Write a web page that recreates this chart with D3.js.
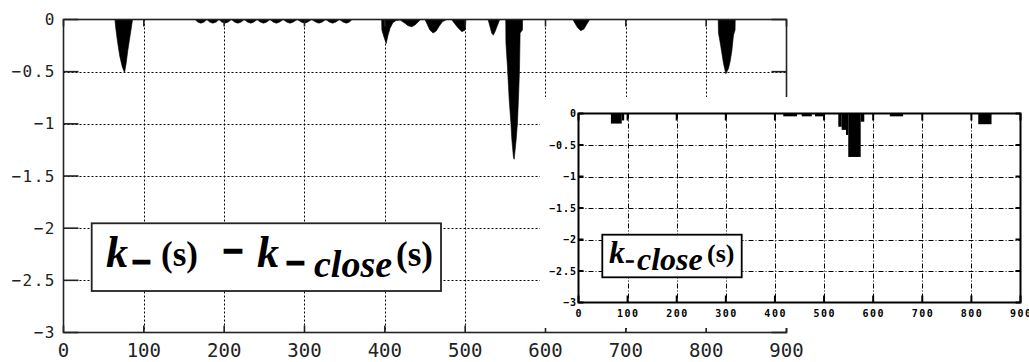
<!DOCTYPE html>
<html><head><meta charset="utf-8">
<script src="https://cdn.jsdelivr.net/npm/d3@7"></script>
<style>body{margin:0;background:#fff;} svg{display:block}</style>
</head><body><svg id="c" width="1029" height="362"></svg>
<script>
// ---------- data (main panel: k_(s) - k_close(s)) ----------
const mainX = [0,63,64,65,67,70,73,76,78,80,83,86,
  164,167,171,175,178.5,182,186,190,193.5,197,201,205,209,213,217,221,225,229,233,237,241,
  245,249,253,257,261,265,269,273.5,278,282,286,291,296,300,304,309,314,318,322,326.5,
  331,335,339,343.5,348,352,356,359,
  396,396.3,399,401.7,404,406.5,410,414,419,424,429,433.6,438,442,444.5,
  450,453,456,460,464,468,472,477,483,487,491,496,500,501,
  528.5,531,533,535,537,540,543,
  550.5,550.7,552.6,554.8,556.9,558.1,560.1,561,563.5,565.1,566.3,567.6,568.4,571.3,571.5,
  634,637,640,644,648,651,655,
  815,815.3,817.4,819.5,821.5,824.5,827.8,829.9,832,834,836,836.2,900];
const mainV = [0,0,0,-0.08,-0.2,-0.35,-0.45,-0.51,-0.42,-0.3,-0.15,0,
  0,-0.025,-0.035,-0.025,0,-0.025,-0.035,-0.025,0,-0.025,-0.035,-0.025,0,-0.025,-0.035,-0.025,0,-0.025,-0.035,-0.025,0,
  -0.025,-0.035,-0.025,0,-0.025,-0.035,-0.025,0,-0.025,-0.035,-0.025,0,-0.025,-0.035,-0.025,0,-0.025,-0.035,-0.025,0,
  -0.025,-0.035,-0.025,0,-0.025,-0.035,-0.025,0,
  0,-0.1,-0.17,-0.23,-0.15,-0.085,-0.03,-0.01,-0.005,-0.03,-0.06,-0.07,-0.05,-0.02,0,
  0,-0.05,-0.1,-0.13,-0.11,-0.06,-0.02,0,0,-0.04,-0.08,-0.117,-0.1,0,
  0,-0.07,-0.13,-0.15,-0.12,-0.06,0,
  0,-0.22,-0.45,-0.77,-0.99,-1.15,-1.32,-1.34,-1.15,-0.99,-0.77,-0.49,-0.13,-0.1,0,
  0,-0.04,-0.08,-0.107,-0.09,-0.05,0,
  0,-0.13,-0.22,-0.32,-0.42,-0.52,-0.47,-0.4,-0.3,-0.15,-0.1,0,0];
// ---------- data (inset: k_close(s)), step blocks ----------
const insetStart = [66,88,417,454.5,481.6,529,535.9,544.7,549.3,574.6,634,814];
const insetEnd   = [88,93,445,475,498.5,535.9,544.7,549.3,574.6,581.9,661,841];
const insetValue = [-0.16,-0.11,-0.045,-0.045,-0.045,-0.21,-0.26,-0.34,-0.69,-0.13,-0.045,-0.17];
// ---------- ticks ----------
const xTicks = [0,100,200,300,400,500,600,700,800,900];
const xTickLabels = ["0","100","200","300","400","500","600","700","800","900"];
const yTicks = [0,-0.5,-1,-1.5,-2,-2.5,-3];
const yTickLabels = ["0","\u22120.5","\u22121","\u22121.5","\u22122","\u22122.5","\u22123"];

const svg = d3.select("#c");
const mono = "'DejaVu Sans Mono', monospace";
const serif = "'Liberation Serif','Times New Roman',serif";

// ================= MAIN PANEL =================
const x = d3.scaleLinear().domain([0,900]).range([63.5,786.5]);
const y = d3.scaleLinear().domain([-3,0]).range([332.5,19.5]);
const gm = svg.append("g");

gm.selectAll(".vg").data(xTicks.slice(1,-1)).enter().append("line")
  .attr("x1",d=>Math.round(x(d))+0.5).attr("x2",d=>Math.round(x(d))+0.5)
  .attr("y1",y(0)).attr("y2",y(-3))
  .attr("stroke","#000").attr("stroke-width",1).attr("stroke-dasharray","2,2");
gm.selectAll(".hg").data(yTicks.slice(1,-1)).enter().append("line")
  .attr("y1",d=>Math.round(y(d))+0.5).attr("y2",d=>Math.round(y(d))+0.5)
  .attr("x1",x(0)).attr("x2",x(900))
  .attr("stroke","#000").attr("stroke-width",1).attr("stroke-dasharray","2,2");

const mainData = mainX.map((d,i)=>({x:d,v:mainV[i]}));
gm.append("path").datum(mainData)
  .attr("d", d3.area().x(d=>x(d.x)).y0(y(0)).y1(d=>y(d.v)))
  .attr("fill","#000").attr("stroke","#000").attr("stroke-width",0.6);

gm.append("rect").attr("x",x(0)).attr("y",y(0)).attr("width",x(900)-x(0)).attr("height",y(-3)-y(0))
  .attr("fill","none").attr("stroke","#222").attr("stroke-width",1.6);
yTicks.forEach(t=>{
  gm.append("line").attr("x1",x(0)).attr("x2",x(0)+15).attr("y1",y(t)).attr("y2",y(t)).attr("stroke","#222").attr("stroke-width",1.6);
  gm.append("line").attr("x1",x(900)-15).attr("x2",x(900)).attr("y1",y(t)).attr("y2",y(t)).attr("stroke","#222").attr("stroke-width",1.6);
});
xTicks.forEach(t=>{
  gm.append("line").attr("x1",x(t)).attr("x2",x(t)).attr("y1",y(-3)-7).attr("y2",y(-3)).attr("stroke","#222").attr("stroke-width",1.6);
  gm.append("line").attr("x1",x(t)).attr("x2",x(t)).attr("y1",y(0)).attr("y2",y(0)+7).attr("stroke","#222").attr("stroke-width",1.6);
});
gm.selectAll(".yl").data(yTicks).enter().append("text")
  .attr("x",56).attr("y",d=>y(d)).attr("text-anchor","end").attr("dominant-baseline","central")
  .attr("font-family",mono).attr("font-size",16).attr("letter-spacing",1.5).attr("fill","#222")
  .text((d,i)=>yTickLabels[i]);
gm.selectAll(".xl").data(xTicks).enter().append("text")
  .attr("x",d=>x(d)).attr("y",357).attr("text-anchor","middle")
  .attr("font-family",mono).attr("font-size",19).attr("fill","#222")
  .text((d,i)=>xTickLabels[i]);

const lg = gm.append("g");
const lbox = lg.append("rect").attr("x",91.7).attr("y",223.3).attr("height",67.7).attr("width",350)
  .attr("fill","#fff").attr("stroke","#222").attr("stroke-width",1.8);
function t(g,str,xp,yp,size,italic,stroke){
  const e = g.append("text").attr("x",xp).attr("y",yp).attr("font-family",serif)
    .attr("font-size",size).attr("font-weight","bold").attr("font-style",italic?"italic":"normal")
    .attr("fill","#000").text(str);
  if(stroke) e.attr("stroke","#000").attr("stroke-width",stroke);
  return e;
}
t(lg,"k",106,266.5,44,true);
t(lg,"\u2212",132,273,33,false,2.5);
t(lg,"(s)",161,266,35,false);
t(lg,"\u2212",223,262.5,35,false,2.5);
t(lg,"k",257,266.5,44,true);
t(lg,"\u2212",286,274,33,false,2.5);
const cl = t(lg,"close",314,276.7,38,true);
const clEnd = 314 + cl.node().getComputedTextLength();
const s2 = t(lg,"(s)",clEnd+4,266,35,false);
const s2End = clEnd+4+s2.node().getComputedTextLength();
lbox.attr("width", s2End + 8 - 91.7);

// ================= INSET =================
const gi = svg.append("g");
gi.append("rect").attr("x",540).attr("y",97).attr("width",489).attr("height",231).attr("fill","#fff");
const xi = d3.scaleLinear().domain([0,900]).range([578.5,1020.5]);
const yi = d3.scaleLinear().domain([-3,0]).range([302.5,113.5]);

gi.selectAll(".ivg").data(xTicks.slice(1,-1)).enter().append("line")
  .attr("x1",d=>Math.round(xi(d))+0.5).attr("x2",d=>Math.round(xi(d))+0.5)
  .attr("y1",yi(0)).attr("y2",yi(-3))
  .attr("stroke","#000").attr("stroke-width",1).attr("stroke-dasharray","5,2,1,2");
gi.selectAll(".ihg").data(yTicks.slice(1,-1)).enter().append("line")
  .attr("y1",d=>Math.round(yi(d))+0.5).attr("y2",d=>Math.round(yi(d))+0.5)
  .attr("x1",xi(0)).attr("x2",xi(900))
  .attr("stroke","#000").attr("stroke-width",1).attr("stroke-dasharray","5,2,1,2");

gi.selectAll(".bar").data(insetStart).enter().append("rect")
  .attr("x",(d,i)=>xi(d)).attr("width",(d,i)=>xi(insetEnd[i])-xi(d))
  .attr("y",yi(0)).attr("height",(d,i)=>yi(insetValue[i])-yi(0))
  .attr("fill","#000");

gi.append("rect").attr("x",xi(0)).attr("y",yi(0)).attr("width",xi(900)-xi(0)).attr("height",yi(-3)-yi(0))
  .attr("fill","none").attr("stroke","#000").attr("stroke-width",2);
yTicks.forEach(tk=>{
  gi.append("line").attr("x1",xi(0)).attr("x2",xi(0)+5).attr("y1",yi(tk)).attr("y2",yi(tk)).attr("stroke","#000").attr("stroke-width",2);
  gi.append("line").attr("x1",xi(900)-5).attr("x2",xi(900)).attr("y1",yi(tk)).attr("y2",yi(tk)).attr("stroke","#000").attr("stroke-width",2);
});
xTicks.forEach(tk=>{
  gi.append("line").attr("x1",xi(tk)).attr("x2",xi(tk)).attr("y1",yi(-3)-7).attr("y2",yi(-3)).attr("stroke","#000").attr("stroke-width",2);
  gi.append("line").attr("x1",xi(tk)).attr("x2",xi(tk)).attr("y1",yi(0)).attr("y2",yi(0)+7).attr("stroke","#000").attr("stroke-width",2);
});
gi.selectAll(".iyl").data(yTicks).enter().append("text")
  .attr("x",577).attr("y",d=>yi(d)).attr("text-anchor","end").attr("dominant-baseline","central")
  .attr("font-family",mono).attr("font-size",10).attr("font-weight","bold").attr("letter-spacing",1).attr("fill","#000")
  .text((d,i)=>yTickLabels[i]);
gi.selectAll(".ixl").data(xTicks).enter().append("text")
  .attr("x",d=>xi(d)+0.7).attr("y",317).attr("text-anchor","middle")
  .attr("font-family",mono).attr("font-size",10).attr("font-weight","bold").attr("letter-spacing",1.5).attr("fill","#000")
  .text((d,i)=>xTickLabels[i]);

const il = gi.append("g");
il.append("rect").attr("x",602.3).attr("y",234.7).attr("width",139.4).attr("height",42.6)
  .attr("fill","#fff").attr("stroke","#000").attr("stroke-width",1.8);
t(il,"k",609,263,32,true);
t(il,"\u2212",626,266,14,false,1.5);
t(il,"close",637,269.7,32,true);
t(il,"(s)",707,261.5,26,false);
</script></body></html>
